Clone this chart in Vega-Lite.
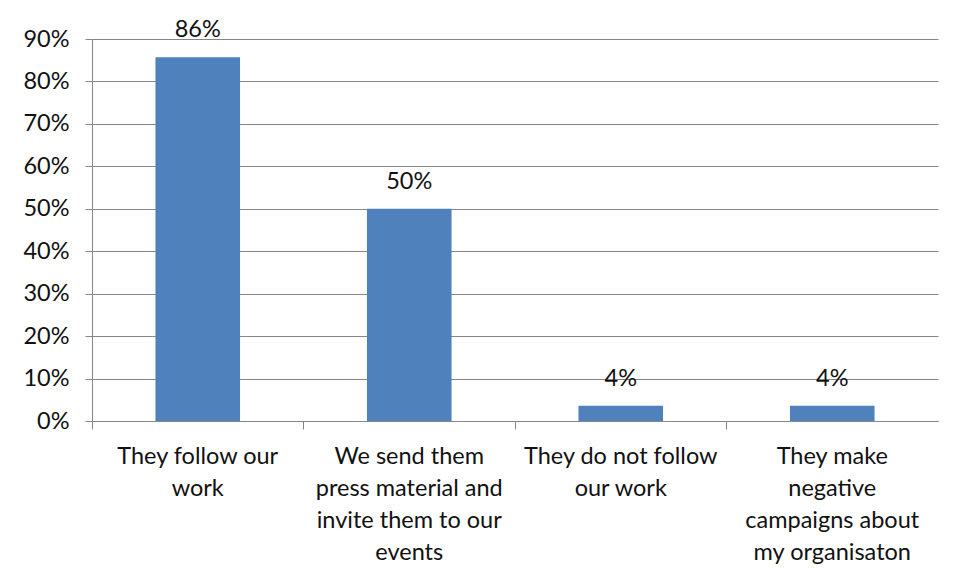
{
  "$schema": "https://vega.github.io/schema/vega-lite/v6.json",
  "width": 846,
  "height": 382,
  "autosize": {"type": "none"},
  "padding": {"left": 92, "top": 39, "right": 15, "bottom": 161},
  "background": "white",
  "config": {"view": {"stroke": null}, "font": "Lato"},
  "data": {
    "values": [
      {"category": "They follow our\nwork", "value": 0.857},
      {"category": "We send them\npress material and\ninvite them to our\nevents", "value": 0.5},
      {"category": "They do not follow\nour work", "value": 0.0357},
      {"category": "They make\nnegative\ncampaigns about\nmy organisaton", "value": 0.0357}
    ]
  },
  "encoding": {
    "x": {
      "field": "category",
      "type": "nominal",
      "sort": null,
      "scale": {"paddingInner": 0, "paddingOuter": 0},
      "axis": {
        "title": null,
        "labelAngle": 0,
        "bandPosition": 0,
        "tickSize": 8,
        "tickColor": "#868686",
        "domainColor": "#868686",
        "labelExpr": "split(datum.label, '\\n')",
        "labelFontSize": 23.5,
        "labelLineHeight": 32.3,
        "labelPadding": 15,
        "labelLimit": 0,
        "labelColor": "#111111",
        "labelBaseline": "top"
      }
    },
    "y": {
      "field": "value",
      "type": "quantitative",
      "scale": {"domain": [0, 0.9], "nice": false},
      "axis": {
        "title": null,
        "values": [0, 0.1, 0.2, 0.3, 0.4, 0.5, 0.6, 0.7, 0.8, 0.9],
        "format": ".0%",
        "grid": true,
        "gridColor": "#868686",
        "gridOpacity": 1,
        "domainColor": "#868686",
        "tickColor": "#868686",
        "tickSize": 7,
        "labelFontSize": 23.5,
        "labelPadding": 16,
        "labelColor": "#111111"
      }
    }
  },
  "layer": [
    {"mark": {"type": "bar", "color": "#4F81BD", "width": {"band": 0.4}}},
    {
      "mark": {"type": "text", "fontSize": 23.5, "color": "#111111", "baseline": "middle", "dy": -27},
      "encoding": {"text": {"field": "value", "type": "quantitative", "format": ".0%"}}
    }
  ]
}
